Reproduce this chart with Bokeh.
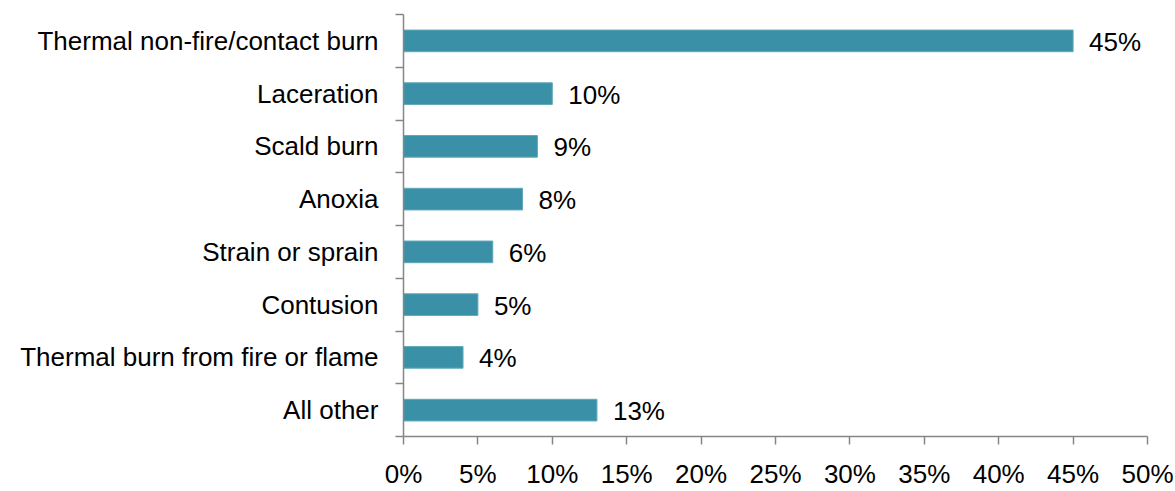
from bokeh.plotting import figure
from bokeh.models import FixedTicker, Range1d, ColumnDataSource
from bokeh.core.properties import value
from bokeh.embed import file_html
from bokeh.resources import INLINE

categories = ["Thermal non-fire/contact burn", "Laceration", "Scald burn", "Anoxia",
              "Strain or sprain", "Contusion", "Thermal burn from fire or flame", "All other"]
values = [45, 10, 9, 8, 6, 5, 4, 13]
x_ticks = [0, 5, 10, 15, 20, 25, 30, 35, 40, 45, 50]

n = len(categories)
ypos = [n - 0.5 - i for i in range(n)]
src = ColumnDataSource(dict(y=ypos, v=values, lab=[f"{v}%" for v in values], cat=categories))

FONT = "Liberation Sans"
FS = "26px"

p = figure(width=1175, height=491, output_backend="svg", toolbar_location=None,
           x_range=Range1d(0, 50), y_range=Range1d(0, n),
           min_border_left=403, min_border_right=28, min_border_top=14, min_border_bottom=53)
p.outline_line_color = None
p.xgrid.visible = False
p.ygrid.visible = False

p.hbar(y="y", right="v", left=0, height=0.41, source=src,
       fill_color="#3A91A7", line_color="#5FA8BA", line_width=1)
p.text(x="v", y="y", text="lab", source=src, x_offset=16, y_offset=1, text_align="left",
       text_baseline="middle", text_font=value(FONT), text_font_size=FS, text_color="#000000")

# x axis
p.xaxis.ticker = FixedTicker(ticks=x_ticks)
p.xaxis.major_label_overrides = {t: f"{t}%" for t in x_ticks}
p.xaxis.major_tick_in = 0
p.xaxis.major_tick_out = 8
p.xaxis.minor_tick_out = 0
p.xaxis.minor_tick_in = 0
p.xaxis.major_label_standoff = 14
# y axis
p.yaxis.ticker = FixedTicker(ticks=ypos, minor_ticks=list(range(n + 1)))
p.yaxis.major_label_overrides = {y: c for y, c in zip(ypos, categories)}
p.yaxis.major_tick_in = 0
p.yaxis.major_tick_out = 0
p.yaxis.minor_tick_in = 0
p.yaxis.minor_tick_out = 8
p.yaxis.major_label_standoff = 17

for ax in (p.xaxis, p.yaxis):
    ax.axis_line_color = "#868686"
    ax.axis_line_width = 1.5
    ax.major_tick_line_color = "#868686"
    ax.major_tick_line_width = 1.5
    ax.minor_tick_line_color = "#868686"
    ax.minor_tick_line_width = 1.5
    ax.major_label_text_font = FONT
    ax.major_label_text_font_size = FS
    ax.major_label_text_color = "#000000"

open("out.html", "w").write(file_html(p, INLINE))
